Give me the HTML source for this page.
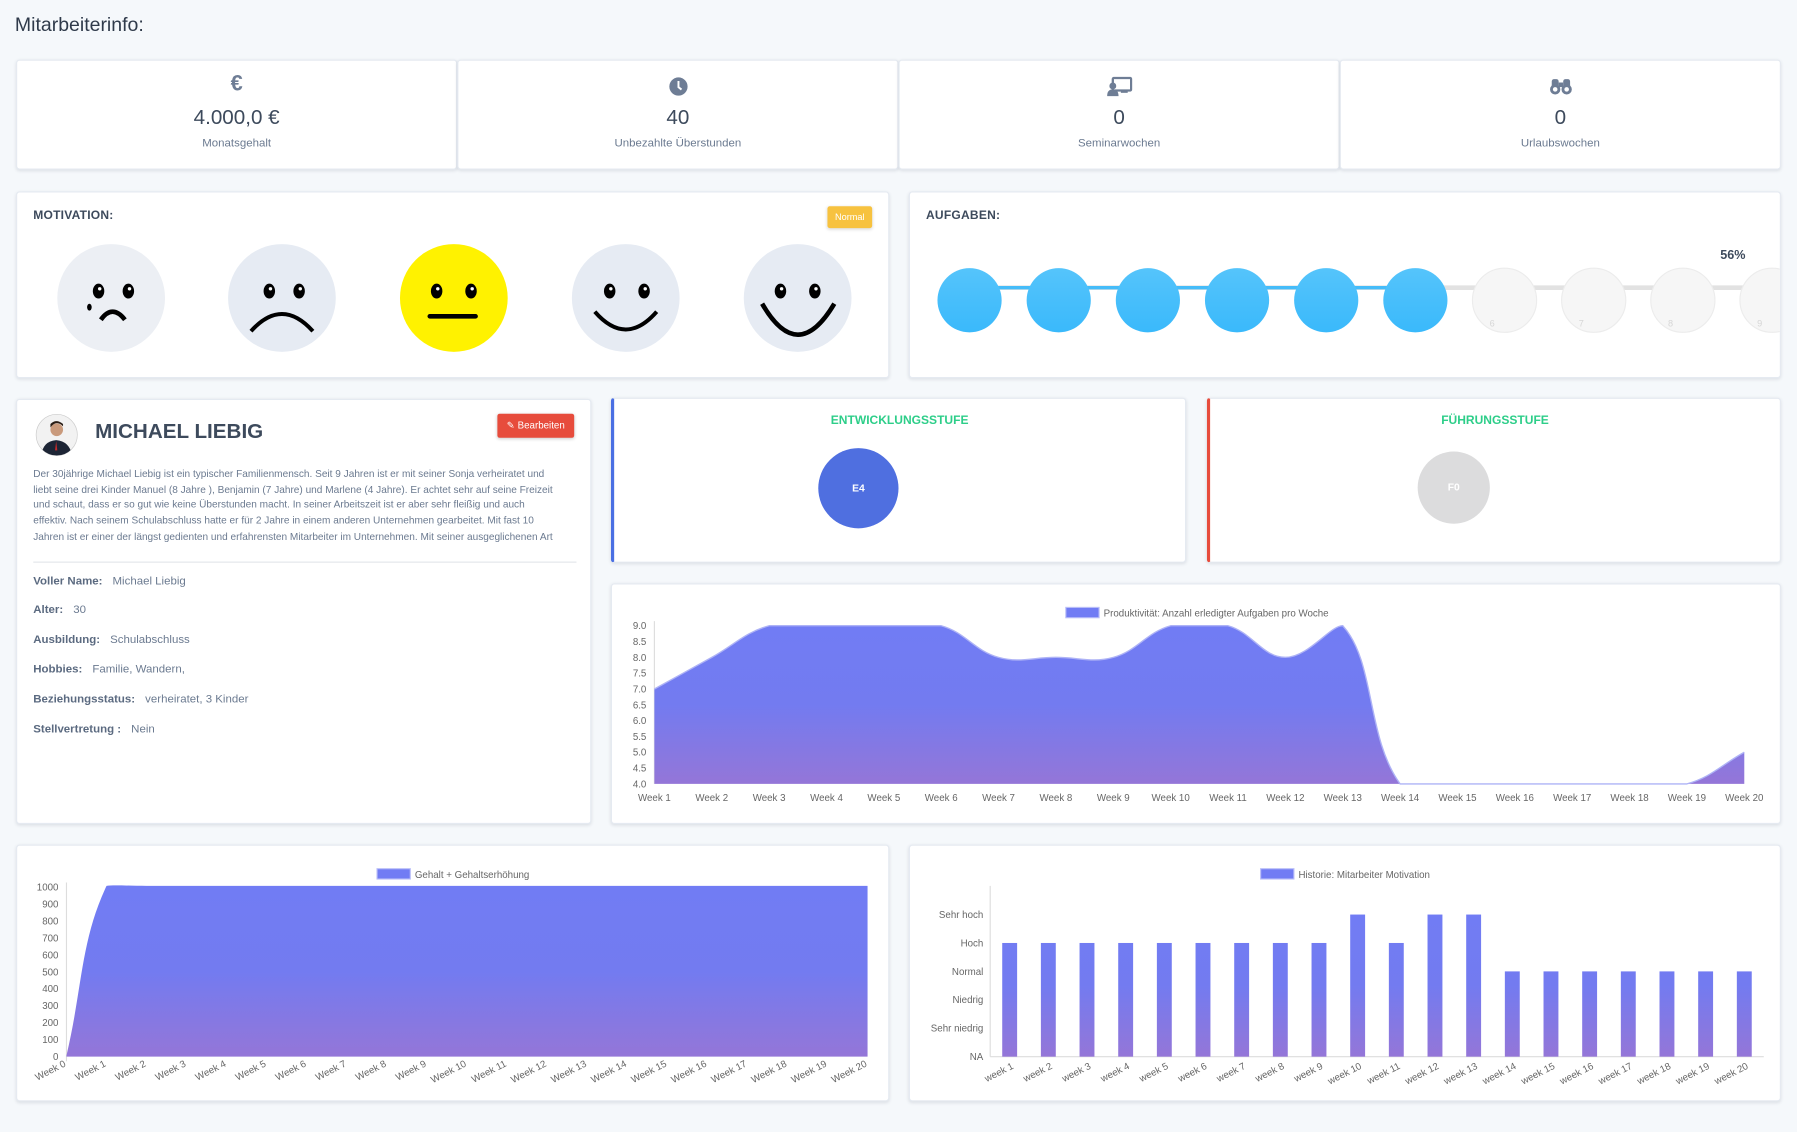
<!DOCTYPE html>
<html><head><meta charset="utf-8">
<style>
html,body{margin:0;padding:0;background:#f5f8fb;overflow:hidden}
body{width:1797px;height:1132px;font-family:"Liberation Sans",sans-serif;color:#3d4a5c}
#wrap{position:absolute;left:0;top:0;width:1568px;height:988px;transform:scale(1.14605);transform-origin:0 0}
.card{position:absolute;background:#fff;border:1px solid #e5eaf1;border-radius:3px;box-shadow:0 1px 3px rgba(40,50,70,.12);box-sizing:border-box}
.abs{position:absolute}
.stat{text-align:center}
.stat .val{position:absolute;left:0;right:0;top:39px;font-size:18px;color:#3d4a5c}
.stat .lab{position:absolute;left:0;right:0;top:67px;font-size:10px;color:#6b7a90}
.stat .ic{position:absolute;left:50%;top:14px;transform:translateX(-50%)}
.ttl{font-size:10.5px;font-weight:bold;color:#3d4a5c;letter-spacing:.2px}
.para{font-size:8.8px;line-height:13.7px;color:#6b7a90;white-space:nowrap}
.fld{position:absolute;left:14px;font-size:10px;color:#6b7a90}
.fld b{color:#5b6a80;margin-right:6px}
svg text{font-family:"Liberation Sans",sans-serif}
</style></head><body>
<div id="wrap">
<div class="abs" style="left:13px;top:12px;font-size:17px;color:#2f3a4a">Mitarbeiterinfo:</div>

<div class="card stat" style="left:14px;top:52px;width:385px;height:96px">
 <div class="ic" style="font-size:19px;color:#6e7d95;top:10px;font-weight:bold">€</div>
 <div class="val">4.000,0 €</div>
 <div class="lab">Monatsgehalt</div>
</div>
<div class="card stat" style="left:399px;top:52px;width:385px;height:96px">
 <svg class="ic" width="17" height="17" viewBox="0 0 16 16"><circle cx="8" cy="8" r="7.5" fill="#6e7d95"/><path d="M8 3.5V8.5L10.5 10.5" stroke="#fff" stroke-width="1.6" fill="none"/></svg>
 <div class="val">40</div>
 <div class="lab">Unbezahlte Überstunden</div>
</div>
<div class="card stat" style="left:784px;top:52px;width:385px;height:96px">
 <svg class="ic" width="22" height="17" viewBox="0 0 22 17"><rect x="5" y="1" width="16" height="11" rx="1" fill="none" stroke="#6e7d95" stroke-width="2"/><circle cx="5" cy="8" r="3" fill="#6e7d95"/><path d="M0 17 Q0 11 5 11 Q10 11 10 17Z" fill="#6e7d95"/><rect x="12" y="12" width="6" height="2" fill="#6e7d95"/></svg>
 <div class="val">0</div>
 <div class="lab">Seminarwochen</div>
</div>
<div class="card stat" style="left:1169px;top:52px;width:385px;height:96px">
 <svg class="ic" width="20" height="17" viewBox="0 0 20 17"><circle cx="5" cy="11" r="4.5" fill="#6e7d95"/><circle cx="15" cy="11" r="4.5" fill="#6e7d95"/><rect x="2" y="2" width="6" height="9" rx="2" fill="#6e7d95"/><rect x="12" y="2" width="6" height="9" rx="2" fill="#6e7d95"/><rect x="8" y="5" width="4" height="4" fill="#6e7d95"/><circle cx="5" cy="11" r="2" fill="#fff"/><circle cx="15" cy="11" r="2" fill="#fff"/></svg>
 <div class="val">0</div>
 <div class="lab">Urlaubswochen</div>
</div>

<div class="card" style="left:14px;top:167px;width:762px;height:163px">
 <div class="abs ttl" style="left:14px;top:14px">MOTIVATION:</div>
 <div class="abs" style="left:707px;top:12px;width:39px;height:19px;background:#f7c23f;border-radius:2px;color:#fff;font-size:8px;line-height:19px;text-align:center;box-shadow:0 1px 3px rgba(0,0,0,.15)">Normal</div>
 <svg class="abs" style="left:0;top:0" width="762" height="163">
  <g transform="translate(-14,-167)">
   <g><circle cx="96" cy="259" r="47" fill="#eceff4"/><ellipse cx="85" cy="253" rx="5" ry="6.5"/><ellipse cx="111" cy="253" rx="5" ry="6.5"/><circle cx="86" cy="251" r="1.5" fill="#fff"/><circle cx="112" cy="251" r="1.5" fill="#fff"/><ellipse cx="77" cy="267" rx="2" ry="3"/><path d="M87 278 Q97 264 108 278" stroke="#000" stroke-width="4" fill="none"/></g>
   <g><circle cx="245" cy="259" r="47" fill="#e6ebf3"/><ellipse cx="234" cy="253" rx="5" ry="6.5"/><ellipse cx="260" cy="253" rx="5" ry="6.5"/><circle cx="235" cy="251" r="1.5" fill="#fff"/><circle cx="261" cy="251" r="1.5" fill="#fff"/><path d="M218 288 Q245 258 272 288" stroke="#000" stroke-width="3.5" fill="none"/></g>
   <g><circle cx="395" cy="259" r="47" fill="#fff200"/><ellipse cx="380" cy="253" rx="5" ry="6.5"/><ellipse cx="410" cy="253" rx="5" ry="6.5"/><circle cx="381" cy="251" r="1.5" fill="#fff"/><circle cx="411" cy="251" r="1.5" fill="#fff"/><rect x="372" y="273" width="44" height="4" rx="2"/></g>
   <g><circle cx="545" cy="259" r="47" fill="#e6ebf3"/><ellipse cx="531" cy="253" rx="5" ry="6.5"/><ellipse cx="561" cy="253" rx="5" ry="6.5"/><circle cx="532" cy="251" r="1.5" fill="#fff"/><circle cx="562" cy="251" r="1.5" fill="#fff"/><path d="M518 271 Q545 302 572 271" stroke="#000" stroke-width="3.5" fill="none"/></g>
   <g><circle cx="695" cy="259" r="47" fill="#e6ebf3"/><ellipse cx="680" cy="253" rx="5" ry="6.5"/><ellipse cx="710" cy="253" rx="5" ry="6.5"/><circle cx="681" cy="251" r="1.5" fill="#fff"/><circle cx="711" cy="251" r="1.5" fill="#fff"/><path d="M664 264 Q695 318 727 264" stroke="#000" stroke-width="4" fill="none"/></g>
  </g>
 </svg>
</div>

<div class="card" style="left:793px;top:167px;width:761px;height:163px;overflow:hidden">
 <div class="abs ttl" style="left:14px;top:14px">AUFGABEN:</div>
 <div class="abs" style="left:707px;top:49px;font-size:11px;font-weight:bold;color:#3d4a5c">56%</div>
 <svg class="abs" style="left:0;top:0" width="761" height="163" id="tasksSvg"></svg>
</div>

<div class="card" style="left:14px;top:348px;width:502px;height:371px">
 <svg class="abs" style="left:16px;top:12px" width="37" height="37"><defs><clipPath id="av"><circle cx="18.5" cy="18.5" r="18"/></clipPath></defs><circle cx="18.5" cy="18.5" r="18" fill="#f2f2f2" stroke="#ccc" stroke-width=".6"/><g clip-path="url(#av)"><path d="M5 37 Q6 24 18 23 Q30 24 32 37Z" fill="#1d2535"/><circle cx="18.5" cy="14" r="5.5" fill="#c99a7c"/><path d="M13 12 Q18 5 24 11 L24 9 Q18 4 13 9Z" fill="#2a1d15"/><path d="M18 24 L17 32 L19 32Z" fill="#c52a2a"/></g></svg>
 <div class="abs" style="left:68px;top:17px;font-size:18px;font-weight:bold;color:#3d4a5c">MICHAEL LIEBIG</div>
 <div class="abs" style="left:419px;top:12px;width:67px;height:21px;background:#e74c3c;border-radius:2px;color:#fff;font-size:8.5px;line-height:21px;text-align:center;box-shadow:0 1px 3px rgba(0,0,0,.2)">✎ Bearbeiten</div>
 <div class="abs para" style="left:14px;top:58px">Der 30jährige Michael Liebig ist ein typischer Familienmensch. Seit 9 Jahren ist er mit seiner Sonja verheiratet und<br>liebt seine drei Kinder Manuel (8 Jahre ), Benjamin (7 Jahre) und Marlene (4 Jahre). Er achtet sehr auf seine Freizeit<br>und schaut, dass er so gut wie keine Überstunden macht. In seiner Arbeitszeit ist er aber sehr fleißig und auch<br>effektiv. Nach seinem Schulabschluss hatte er für 2 Jahre in einem anderen Unternehmen gearbeitet. Mit fast 10<br>Jahren ist er einer der längst gedienten und erfahrensten Mitarbeiter im Unternehmen. Mit seiner ausgeglichenen Art</div>
 <div class="abs" style="left:14px;top:141px;width:474px;height:1px;background:#e3e6ea"></div>
 <div class="fld" style="top:153px"><b>Voller Name:</b> Michael Liebig</div>
 <div class="fld" style="top:178px"><b>Alter:</b> 30</div>
 <div class="fld" style="top:204px"><b>Ausbildung:</b> Schulabschluss</div>
 <div class="fld" style="top:230px"><b>Hobbies:</b> Familie, Wandern,</div>
 <div class="fld" style="top:256px"><b>Beziehungsstatus:</b> verheiratet, 3 Kinder</div>
 <div class="fld" style="top:282px"><b>Stellvertretung :</b> Nein</div>
</div>

<div class="card" style="left:533px;top:347px;width:502px;height:144px;border-left:3px solid #4a6fe3">
 <div class="abs" style="left:0;right:0;top:13px;text-align:center;font-size:10.5px;font-weight:bold;color:#2dce89">ENTWICKLUNGSSTUFE</div>
 <div class="abs" style="left:178px;top:43px;width:70px;height:70px;border-radius:50%;background:#4f6fe0;color:#fff;font-size:9px;font-weight:bold;line-height:70px;text-align:center">E4</div>
</div>
<div class="card" style="left:1053px;top:347px;width:501px;height:144px;border-left:3px solid #e74c3c">
 <div class="abs" style="left:0;right:0;top:13px;text-align:center;font-size:10.5px;font-weight:bold;color:#2dce89">FÜHRUNGSSTUFE</div>
 <div class="abs" style="left:181px;top:46px;width:63px;height:63px;border-radius:50%;background:#dcdcdd;color:#fff;font-size:9px;font-weight:bold;line-height:63px;text-align:center">F0</div>
</div>

<div class="card" style="left:533px;top:509px;width:1021px;height:210px">
 <svg class="abs" style="left:0;top:0" width="1021" height="210" id="prodSvg"></svg>
</div>
<div class="card" style="left:14px;top:737px;width:762px;height:224px">
 <svg class="abs" style="left:0;top:0" width="762" height="224" id="salSvg"></svg>
</div>
<div class="card" style="left:793px;top:737px;width:761px;height:224px">
 <svg class="abs" style="left:0;top:0" width="761" height="224" id="motSvg"></svg>
</div>
</div>

<script>
// ---- data ----
const taskSteps = [1,2,3,4,5,6,7,8,9,10];
const tasksDone = 6;
const prodWeeks = ["Week 1","Week 2","Week 3","Week 4","Week 5","Week 6","Week 7","Week 8","Week 9","Week 10","Week 11","Week 12","Week 13","Week 14","Week 15","Week 16","Week 17","Week 18","Week 19","Week 20"];
const prodValues = [7,8,9,9,9,9,8,8,8,9,9,8,9,4,4,4,4,4,4,5];
const prodTicks = [4.0,4.5,5.0,5.5,6.0,6.5,7.0,7.5,8.0,8.5,9.0];
const salWeeks = ["Week 0","Week 1","Week 2","Week 3","Week 4","Week 5","Week 6","Week 7","Week 8","Week 9","Week 10","Week 11","Week 12","Week 13","Week 14","Week 15","Week 16","Week 17","Week 18","Week 19","Week 20"];
const salValues = [0,1000,1000,1000,1000,1000,1000,1000,1000,1000,1000,1000,1000,1000,1000,1000,1000,1000,1000,1000,1000];
const salTicks = [0,100,200,300,400,500,600,700,800,900,1000];
const motWeeks = ["week 1","week 2","week 3","week 4","week 5","week 6","week 7","week 8","week 9","week 10","week 11","week 12","week 13","week 14","week 15","week 16","week 17","week 18","week 19","week 20"];
const motValues = [4,4,4,4,4,4,4,4,4,5,4,5,5,3,3,3,3,3,3,3];
const motLevels = ["NA","Sehr niedrig","Niedrig","Normal","Hoch","Sehr hoch"];

const NS="http://www.w3.org/2000/svg";
function mk(tag,attrs,parent){const e=document.createElementNS(NS,tag);for(const k in attrs)e.setAttribute(k,attrs[k]);if(parent)parent.appendChild(e);return e;}
function root(id,ox,oy){const s=document.getElementById(id);return mk('g',{transform:`translate(${-ox},${-oy})`},s);}
function grad(svg,id,y0,y1){const d=mk('defs',{},svg);const g=mk('linearGradient',{id:id,x1:0,y1:y0,x2:0,y2:y1,gradientUnits:'userSpaceOnUse'},d);
 mk('stop',{offset:0,'stop-color':'#717cf4'},g);mk('stop',{offset:0.5,'stop-color':'#737bf0'},g);mk('stop',{offset:1,'stop-color':'#9476d8'},g);}
function spline(pts,top,bot){let d=`M${pts[0][0]},${pts[0][1]}`;const t=0.4;const cps=pts.map((p,i)=>{const p0=pts[i-1]||p,p2=pts[i+1]||p;
 const d01=Math.hypot(p[0]-p0[0],p[1]-p0[1]),d12=Math.hypot(p2[0]-p[0],p2[1]-p[1]);const s=d01+d12||1;const fa=t*d01/s,fb=t*d12/s;
 const cl=v=>Math.max(top,Math.min(bot,v));
 return {p:[p[0]-fa*(p2[0]-p0[0]),cl(p[1]-fa*(p2[1]-p0[1]))],n:[p[0]+fb*(p2[0]-p0[0]),cl(p[1]+fb*(p2[1]-p0[1]))]};});
 for(let i=1;i<pts.length;i++){const a=cps[i-1].n,b=cps[i].p;d+=` C${a[0]},${a[1]} ${b[0]},${b[1]} ${pts[i][0]},${pts[i][1]}`;}return d;}
function legend(g,x,y,label,name){const r=mk('rect',{x:x,y:y,width:29,height:9,fill:'#717cf4',stroke:'#b9bdf8','stroke-width':1},g);
 
 const t=mk('text',{x:x+33,y:y+8,'font-size':8.5,fill:'#666'},g);t.textContent=label;}

// ---- tasks ----
(function(){const g=root('tasksSvg',793,167);const x0=845,step=77.8,cy=261,r=28;
 const lastDone=x0+(tasksDone-1)*step;
 mk('line',{x1:x0,y1:250,x2:x0+(taskSteps.length-1)*step,y2:250,stroke:'#e2e2e2','stroke-width':4},g);
 mk('line',{x1:x0,y1:250,x2:lastDone,y2:250,stroke:'#45bcf9','stroke-width':3},g);
 const d=mk('defs',{},g);const lg=mk('linearGradient',{id:'tg',x1:0,y1:0,x2:0,y2:1},d);mk('stop',{offset:0,'stop-color':'#55c4fb'},lg);mk('stop',{offset:1,'stop-color':'#3ab9fb'},lg);
 taskSteps.forEach((s,i)=>{const cx=x0+i*step;const done=i<tasksDone;
  const c=mk('circle',{cx:cx,cy:cy,r:r,fill:done?'url(#tg)':'#f6f6f6',stroke:done?'none':'#ececec','stroke-width':1},g);
  
  if(!done){const t=mk('text',{x:cx-13,y:cy+23,'font-size':8,fill:'#d6d6d6'},g);t.textContent=String(i);}});
})();

// ---- productivity ----
(function(){const svg=document.getElementById('prodSvg');const g=root('prodSvg',533,509);
 const X0=570,X1=1521,Ytop=545,Ybot=683,vmin=4,vmax=9;
 const xs=i=>X0+i*(X1-X0)/(prodWeeks.length-1);const ys=v=>Ybot-(v-vmin)/(vmax-vmin)*(Ybot-Ytop);
 grad(svg,'pg',Ytop,Ybot);
 legend(g,929,529,'Produktivität: Anzahl erledigter Aufgaben pro Woche','productivity-legend');
 mk('line',{x1:X0,y1:Ytop-4,x2:X0,y2:Ybot,stroke:'#ddd'},g);
 prodTicks.forEach(v=>{const t=mk('text',{x:X0-7,y:ys(v)+3,'font-size':8.5,fill:'#666','text-anchor':'end'},g);t.textContent=v.toFixed(1);
  });
 prodWeeks.forEach((w,i)=>{const t=mk('text',{x:xs(i),y:698,'font-size':8.5,fill:'#666','text-anchor':'middle'},g);t.textContent=w;
  });
 const pts=prodValues.map((v,i)=>[xs(i),ys(v)]);
 const line=spline(pts,Ytop,Ybot);
 const a=mk('path',{d:line+` L${xs(prodValues.length-1)},${Ybot} L${X0},${Ybot}Z`,fill:'url(#pg)'},g);
 
 mk('path',{d:line,fill:'none',stroke:'#aeb3f6','stroke-width':1.2},g);
})();

// ---- salary ----
(function(){const svg=document.getElementById('salSvg');const g=root('salSvg',14,737);
 const X0=57,X1=756,Ytop=773,Ybot=921,vmin=0,vmax=1000;
 const xs=i=>X0+i*(X1-X0)/(salWeeks.length-1);const ys=v=>Ybot-(v-vmin)/(vmax-vmin)*(Ybot-Ytop);
 grad(svg,'sg',Ytop,Ybot);
 legend(g,328,757,'Gehalt + Gehaltserhöhung','salary-legend');
 mk('line',{x1:X0,y1:Ytop-4,x2:X0,y2:Ybot+4,stroke:'#ddd'},g);
 salTicks.forEach(v=>{const t=mk('text',{x:X0-7,y:ys(v)+3,'font-size':8.5,fill:'#666','text-anchor':'end'},g);t.textContent=String(v);
  });
 salWeeks.forEach((w,i)=>{const x=xs(i);const t=mk('text',{x:x,y:929,'font-size':8.5,fill:'#666','text-anchor':'end',transform:`rotate(-27 ${x} 929)`},g);t.textContent=w;
  });
 const pts=salValues.map((v,i)=>[xs(i),ys(v)-1]);
 const line=spline(pts,Ytop-2,Ybot);
 const a=mk('path',{d:line+` L${xs(salValues.length-1)},${Ybot} L${X0},${Ybot}Z`,fill:'url(#sg)'},g);
 
})();

// ---- motivation history ----
(function(){const svg=document.getElementById('motSvg');const g=root('motSvg',793,737);
 const X0=863,Xfirst=880,Xlast=1521,Ybot=921,stepY=24.8;
 const xs=i=>Xfirst+i*(Xlast-Xfirst)/(motWeeks.length-1);const ys=v=>Ybot-v*stepY;
 grad(svg,'mg',ys(5),Ybot);
 legend(g,1099,757,'Historie: Mitarbeiter Motivation','motivation-legend');
 mk('line',{x1:X0,y1:772,x2:X0,y2:Ybot,stroke:'#ddd'},g);
 mk('line',{x1:X0,y1:Ybot,x2:1538,y2:Ybot,stroke:'#ddd'},g);
 motLevels.forEach((l,i)=>{const t=mk('text',{x:X0-6,y:ys(i)+3,'font-size':8.5,fill:'#666','text-anchor':'end'},g);t.textContent=l;
  });
 motWeeks.forEach((w,i)=>{const x=xs(i)+4;const t=mk('text',{x:x,y:931,'font-size':8.5,fill:'#666','text-anchor':'end',transform:`rotate(-27 ${x} 931)`},g);t.textContent=w;
  });
 motValues.forEach((v,i)=>{const r=mk('rect',{x:xs(i)-6.5,y:ys(v),width:13,height:Ybot-ys(v),fill:'url(#mg)'},g);
  });
})();
</script>
</body></html>
